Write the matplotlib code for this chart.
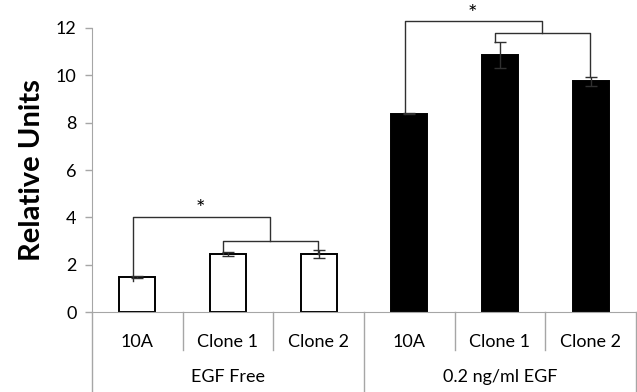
import numpy as np
import matplotlib.pyplot as plt

plt.rcParams['font.family'] = ['Lato', 'DejaVu Sans']

# data
cells = ['10A', 'Clone 1', 'Clone 2', '10A', 'Clone 1', 'Clone 2']
groups = ['EGF Free', '0.2 ng/ml EGF']
values = [1.47, 2.45, 2.45, 8.38, 10.85, 9.75]
errors = [0.05, 0.07, 0.18, 0.03, 0.55, 0.20]
colors = ['white', 'white', 'white', 'black', 'black', 'black']

x = np.arange(len(values))
grey = '#a6a6a6'

fig = plt.figure(figsize=(6.37, 3.92), dpi=100)
ax = fig.add_axes([0.1444, 0.204, 0.8540, 0.7246])

ax.bar(x, values, width=0.4, color=colors, edgecolor='black', linewidth=1.4, zorder=2)
ax.errorbar(x, values, yerr=errors, fmt='none', ecolor='#303030',
            elinewidth=1, capsize=4, capthick=1, zorder=3)

ax.set_xlim(-0.5, 5.5)
ax.set_ylim(0, 12)
ax.set_yticks(range(0, 13, 2))
ax.tick_params(axis='y', labelsize=13, length=5, color=grey, width=1, pad=6)
ax.set_xticks(x)
ax.set_xticklabels(cells)
ax.tick_params(axis='x', length=0, labelsize=13, pad=16)
for s in ['top', 'right']:
    ax.spines[s].set_visible(False)
ax.spines['left'].set_color(grey)
ax.spines['bottom'].set_color(grey)
ax.set_ylabel('Relative Units', fontsize=21, fontweight='bold', labelpad=8)

# category separators below the axis
tr = ax.get_xaxis_transform()
for b in np.arange(-0.5, 6.0, 1.0):
    low = -0.29 if b in (-0.5, 2.5, 5.5) else -0.134
    ax.plot([b, b], [0, low], color=grey, lw=1, transform=tr, clip_on=False)
for i, g in enumerate(groups):
    ax.text(1 + 3 * i, -0.228, g, transform=tr, ha='center', va='center', fontsize=13)

# significance brackets
def bracket(a, b, y, ya, yb, col='#303030'):
    ax.plot([a, a, b, b], [ya, y, y, yb], color=col, lw=1, clip_on=False, zorder=4)

for k, base in enumerate([0, 3]):
    v = values[base:base + 3]
    e = errors[base:base + 3]
    inner_y = 3.01 if k == 0 else 11.77
    outer_y = 4.03 if k == 0 else 12.3
    inner_l, inner_r = base + 0.94, base + 1.99
    bracket(inner_l, inner_r, inner_y, v[1] + (0.02 if k == 0 else e[1]),
            v[2] + (0.02 if k == 0 else e[2]))
    mid = (inner_l + inner_r) / 2
    left_bottom = v[0] - 0.18 if k == 0 else v[0]
    bracket(base - 0.05, mid, outer_y, left_bottom, inner_y)
    ax.text(base + 0.7, outer_y - 0.12, '*', ha='center', va='bottom', fontsize=16)

fig.savefig('out.png', dpi=100)
